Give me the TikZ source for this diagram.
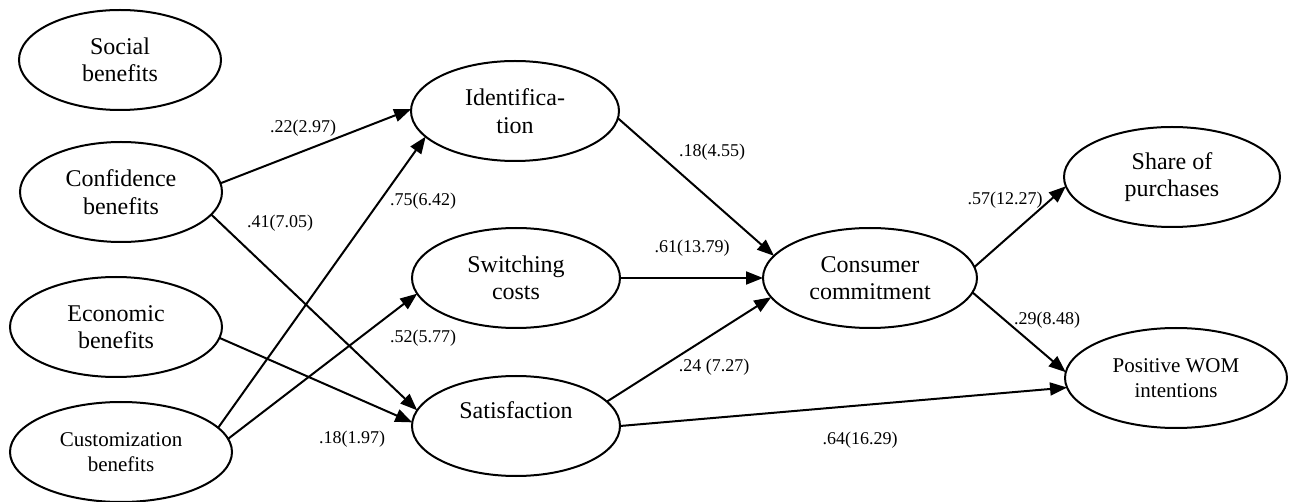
\documentclass[tikz,border=0pt]{standalone}
\usepackage{fontspec}
\setmainfont{Liberation Serif}
\usetikzlibrary{arrows.meta,shapes.geometric}
\begin{document}
\begin{tikzpicture}[x=1pt,y=-1pt,
  construct/.style={ellipse, draw, line width=2pt, inner sep=0pt, outer sep=0pt,
    minimum height=100pt, align=center, font=\fontsize{24}{27.5}\selectfont},
  smalltext/.style={font=\fontsize{21}{25}\selectfont},
  link/.style={line width=2pt, -{Triangle[length=17pt,width=13pt]}},
  coef/.style={font=\fontsize{18}{20}\selectfont, inner sep=0pt}]
\useasboundingbox (0,0) rectangle (1296,502);

% antecedents
\node[construct, minimum width=202pt] (social) at (120,60) {Social\\benefits};
\node[construct, minimum width=202pt] (conf)   at (121,192) {Confidence\\benefits};
\node[construct, minimum width=212pt] (econ)   at (116,327) {Economic\\benefits};
\node[construct, smalltext, minimum width=222pt] (cust) at (121,452) {Customization\\benefits};

% mediators
\node[construct, minimum width=208pt] (ident)  at (515,111) {Identifica-\\tion};
\node[construct, minimum width=208pt] (switch) at (516,278) {Switching\\costs};
\node[construct, minimum width=208pt] (sat)    at (516,426) {Satisfaction\\\rule[-4pt]{0pt}{4pt}};
\node[construct, minimum width=214pt] (cons)   at (870,278) {Consumer\\commitment};

% outcomes
\node[construct, minimum width=216pt] (share)  at (1172,177) {Share of\\purchases};
\node[construct, smalltext, minimum width=222pt] (wom) at (1176,378) {Positive WOM\\intentions};

% paths
\draw[link] (conf.5)   -- (ident.179);
\draw[link] (conf.-14) -- (sat.171);
\draw[link] (cust.14)  -- (ident.196);
\draw[link] (cust.7)   -- (switch.189);
\draw[link] (econ.-6)  -- (sat.178);
\draw[link] (ident.-4) -- (cons.167);
\draw[link] (switch.0) -- (cons.180);
\draw[link] (sat.15)   -- (cons.191);
\draw[link] (sat.0)    -- (wom.185);
\draw[link] (cons.6)   -- (share.185);
\draw[link] (cons.-8)  -- (wom.177);

% path coefficients
\node[coef] (c1)  at (303,128) {.22(2.97)};
\node[coef] (c2)  at (280,223) {.41(7.05)};
\node[coef] (c3)  at (423,201) {.75(6.42)};
\node[coef] (c4)  at (423,338) {.52(5.77)};
\node[coef] (c5)  at (352,439) {.18(1.97)};
\node[coef] (c6)  at (712,152) {.18(4.55)};
\node[coef] (c7)  at (692,248) {.61(13.79)};
\node[coef] (c8)  at (714,367) {.24 (7.27)};
\node[coef] (c9)  at (860,440) {.64(16.29)};
\node[coef] (c10) at (1005,200) {.57(12.27)};
\node[coef] (c11) at (1047,320) {.29(8.48)};
\end{tikzpicture}
\end{document}
